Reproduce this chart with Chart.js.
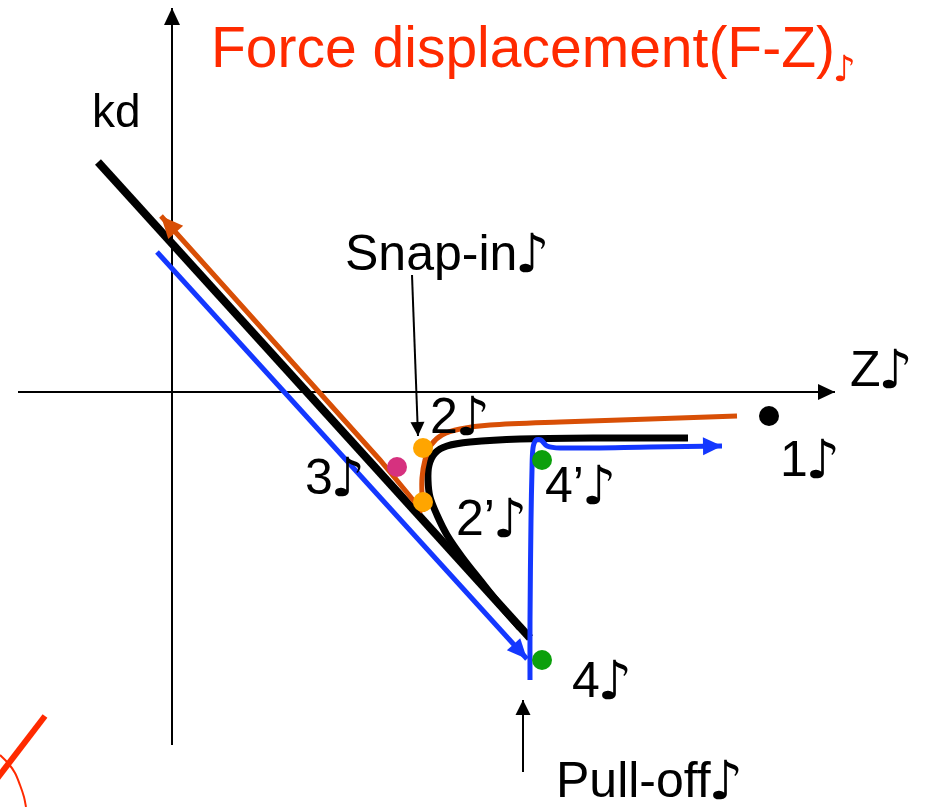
<!DOCTYPE html>
<html>
<head>
<meta charset="utf-8">
<script src="https://cdn.jsdelivr.net/npm/chart.js@4.4.1/dist/chart.umd.min.js"></script>
<style>
  html, body { margin: 0; padding: 0; background: #fff; }
  #wrap { width: 928px; height: 807px; }
</style>
</head>
<body>
<div id="wrap"><canvas id="fzChart" width="928" height="807"></canvas></div>
<script>
// DATI (Z = spostamento, F = forza, unita' arbitrarie)
const axisXZ = [-15.4, 66.3];
const axisXF = [0, 0];
const axisYZ = [0, 0];
const axisYF = [-35.3, 38.4];

// linea di contatto (nera dritta)
const contactZ = [-7.4, 35.8];
const contactF = [23.0, -24.6];

// curva nera (ritiro / snap)
const blackCurveZ = [51.6, 42.8, 34.8, 29.8, 27.5, 26.3, 25.7, 25.6, 25.8, 26.5, 27.5, 29.0, 30.8, 32.8, 34.8];
const blackCurveF = [-4.6, -4.6, -4.7, -5.0, -5.4, -6.1, -7.3, -8.8, -10.5, -12.3, -14.3, -16.5, -18.8, -21.3, -23.6];

// avvicinamento (arancione)
const approachCurveZ = [56.5, 47.8, 38.8, 31.8, 28.8, 27.0, 25.9, 25.3, 25.0, 25.0, 25.1];
const approachCurveF = [-2.4, -2.7, -3.0, -3.3, -3.7, -4.3, -5.3, -6.8, -8.6, -10.3, -12.0];
const approachLineZ = [25.1, 20.8, -1.1];
const approachLineF = [-12.0, -6.8, 17.6];

// ritiro (blu)
const retractLineZ = [-1.5, 35.5];
const retractLineF = [14.0, -26.7];
const pullOffZ = [35.8, 35.8, 35.9, 36.0, 36.1, 36.4, 36.9, 37.5, 38.8, 47.8, 55.0];
const pullOffF = [-28.8, -22.8, -12.8, -7.8, -5.6, -4.8, -4.8, -5.4, -5.6, -5.5, -5.4];

// frecce sottili
const snapArrowZ = [24.0, 24.6];
const snapArrowF = [11.7, -4.4];
const pullArrowZ = [35.1, 35.1];
const pullArrowF = [-38.0, -30.8];

// segno rosso in basso a sinistra
const redStrokeZ = [-12.7, -17.6];
const redStrokeF = [-32.4, -38.8];
const redArcZ = [-17.2, -16.4, -15.7, -15.2, -14.8, -14.6];
const redArcF = [-36.3, -37.1, -38.1, -39.3, -40.5, -41.5];

// punti
const dotZ = [25.1, 25.1, 22.5, 37.0, 37.0, 59.7];
const dotF = [-5.6, -11.0, -7.5, -6.8, -26.8, -2.4];
const dotColors = ['#ffa500', '#ffa500', '#d6317f', '#0ca00c', '#0ca00c', '#000000'];

// etichette (la nota \u266A viene disegnata a parte)
const labelText = ['kd', 'Snap-in\u266A', 'Z\u266A', '2\u266A', '3\u266A', '2\u2019\u266A', '4\u2019\u266A', '1\u266A', '4\u266A', 'Pull-off\u266A'];
const labelZ = [-8.0, 17.3, 67.8, 25.8, 13.3, 28.4, 37.3, 60.8, 40.0, 38.4];
const labelF = [26.5, 12.2, 0.6, -4.1, -10.2, -14.3, -11.0, -8.4, -30.5, -40.5];
const titleText = 'Force displacement(F-Z)';
const titleZ = 3.9;
const titleF = 32.5;

const pts = (zs, fs) => zs.map((z, i) => ({ x: z, y: fs[i] }));

function line(zs, fs, color, width, extra) {
  return Object.assign({
    data: pts(zs, fs),
    showLine: true,
    borderColor: color,
    backgroundColor: color,
    borderWidth: width,
    pointRadius: 0,
    tension: 0
  }, extra || {});
}

// PLUGIN FRECCE
const arrowHeads = {
  id: 'arrowHeads',
  afterDatasetsDraw(chart) {
    const ctx = chart.ctx;
    chart.data.datasets.forEach((ds, i) => {
      if (!ds.arrow) return;
      const el = chart.getDatasetMeta(i).data;
      const a = el[el.length - 2], b = el[el.length - 1];
      const ang = Math.atan2(b.y - a.y, b.x - a.x);
      const len = ds.arrow[0], half = ds.arrow[1];
      ctx.save();
      ctx.fillStyle = ds.borderColor;
      ctx.translate(b.x, b.y);
      ctx.rotate(ang);
      ctx.beginPath();
      ctx.moveTo(0, 0);
      ctx.lineTo(-len, half);
      ctx.lineTo(-len, -half);
      ctx.closePath();
      ctx.fill();
      ctx.restore();
    });
  }
};

const FONT = '"Liberation Sans", Arial, sans-serif';
const NOTE = '"DejaVu Sans", sans-serif';

// scrive testo + nota musicale piu' grande
function drawLabel(ctx, t, px, py, size, noteSize, noteDy) {
  const parts = t.split('\u266A');
  ctx.font = size + 'px ' + FONT;
  ctx.fillText(parts[0], px, py);
  if (parts.length > 1) {
    const w = ctx.measureText(parts[0]).width;
    ctx.font = 'bold ' + noteSize + 'px ' + NOTE;
    ctx.fillText('\u266A', px + w - 2, py + noteDy);
  }
}

// PLUGIN TESTI
const textLabels = {
  id: 'textLabels',
  afterDraw(chart) {
    const { ctx, scales: { x, y } } = chart;
    ctx.save();
    ctx.textBaseline = 'alphabetic';
    ctx.fillStyle = '#000';
    labelText.forEach((t, i) => {
      drawLabel(ctx, t, x.getPixelForValue(labelZ[i]), y.getPixelForValue(labelF[i]),
        i === 0 ? 46 : 50, 54, 2);
    });
    // titolo
    ctx.fillStyle = '#ff2a00';
    drawLabel(ctx, titleText + '\u266A', x.getPixelForValue(titleZ), y.getPixelForValue(titleF), 57, 36, 14);
    ctx.restore();
  }
};

new Chart(document.getElementById('fzChart'), {
  type: 'scatter',
  data: {
    datasets: [
      {
        data: pts(dotZ, dotF),
        backgroundColor: dotColors,
        borderWidth: 0,
        pointRadius: 10,
        showLine: false
      },
      line(snapArrowZ, snapArrowF, '#000', 2, { arrow: [14, 7] }),
      line(pullArrowZ, pullArrowF, '#000', 2, { arrow: [15, 7.5] }),
      line(pullOffZ, pullOffF, '#1437ff', 5, { tension: 0.3, arrow: [19, 9] }),
      line(retractLineZ, retractLineF, '#1437ff', 5, { arrow: [20, 9] }),
      line(approachCurveZ, approachCurveF, '#d84f06', 5, { tension: 0.3 }),
      line(approachLineZ, approachLineF, '#d84f06', 5, { arrow: [22, 10] }),
      line(blackCurveZ, blackCurveF, '#000', 7, { tension: 0.3 }),
      line(contactZ, contactF, '#000', 8),
      line(axisXZ, axisXF, '#000', 2, { arrow: [17, 8] }),
      line(axisYZ, axisYF, '#000', 2, { arrow: [17, 8] }),
      line(redStrokeZ, redStrokeF, '#ff2a00', 6),
      line(redArcZ, redArcF, '#ff2a00', 2, { tension: 0.3 })
    ]
  },
  options: {
    responsive: false,
    animation: false,
    devicePixelRatio: 1,
    layout: { padding: 0, autoPadding: false },
    plugins: { legend: { display: false }, tooltip: { enabled: false } },
    scales: {
      x: { type: 'linear', min: -17.2, max: 75.6, display: false },
      y: { type: 'linear', min: -41.5, max: 39.2, display: false }
    }
  },
  plugins: [arrowHeads, textLabels]
});
</script>
</body>
</html>
